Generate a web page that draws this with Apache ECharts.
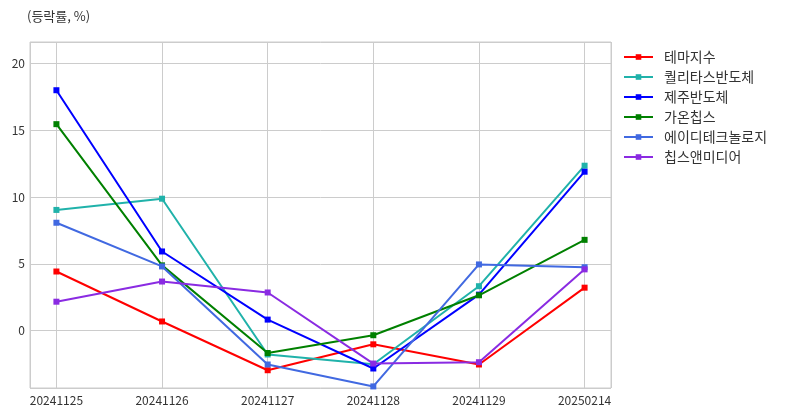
<!DOCTYPE html>
<html>
<head>
<meta charset="utf-8">
<script src="https://cdn.jsdelivr.net/npm/echarts@6/dist/echarts.min.js"></script>
<style>html,body{margin:0;padding:0;background:#fff}#c{width:789px;height:416px}</style>
</head>
<body>
<div id="c"></div>
<script>
const categories = ['20241125','20241126','20241127','20241128','20241129','20250214'];
const seriesNames = ['테마지수','퀄리타스반도체','제주반도체','가온칩스','에이디테크놀로지','칩스앤미디어'];
const themeIdx   = [4.42, 0.68, -2.97, -1.03, -2.54, 3.21];
const qualitas   = [9.03, 9.87, -1.79, -2.52, 3.32, 12.34];
const jeju       = [17.99, 5.92, 0.82, -2.84, 2.69, 11.89];
const gaon       = [15.45, 4.88, -1.68, -0.35, 2.64, 6.79];
const adtech     = [8.07, 4.80, -2.54, -4.18, 4.95, 4.74];
const chips      = [2.16, 3.67, 2.85, -2.47, -2.37, 4.58];
const colors = ['#FF0000','#20B2AA','#0000FF','#008000','#4169E1','#8A2BE2'];
const allData = [themeIdx, qualitas, jeju, gaon, adtech, chips];

const font = 'Noto Sans CJK KR';
const chart = echarts.init(document.getElementById('c'), null, {renderer:'canvas'});
chart.setOption({
  animation:false,
  backgroundColor:'#fff',
  title:{text:'(등락률, %)', left:22, top:5, textStyle:{fontSize:13, fontWeight:'normal', color:'#333', fontFamily:font}},
  legend:{
    orient:'vertical', left:618, top:45, itemWidth:29, itemHeight:7, itemGap:6,
    textStyle:{fontSize:14, color:'#333', fontFamily:font, padding:[0,0,0,6]},
    data: seriesNames
  },
  grid:{left:30, right:178, top:42, bottom:28, show:true, borderColor:'#cccccc', borderWidth:1},
  xAxis:{
    type:'value', min:-0.25, max:5.25,
    axisLine:{show:false}, axisTick:{show:false},
    splitLine:{show:true, lineStyle:{color:'#cccccc', width:1}},
    axisLabel:{
      showMinLabel:false, showMaxLabel:false, fontSize:12, color:'#333', fontFamily:font, margin:6,
      formatter:function(v){ return Number.isInteger(v) ? (categories[v]||'') : ''; }
    }
  },
  yAxis:{
    type:'value', min:-4.3, max:21.6,
    axisLine:{show:false}, axisTick:{show:false},
    splitLine:{show:true, lineStyle:{color:'#cccccc', width:1}},
    axisLabel:{showMinLabel:false, showMaxLabel:false, fontSize:12, color:'#333', fontFamily:font, margin:5,
      formatter:function(v){ return (v % 5 === 0) ? String(v) : ''; }}
  },
  series: seriesNames.map(function(n,i){
    return {
      name:n, type:'line', symbol:'rect', symbolSize:6,
      data: allData[i].map(function(v,j){return [j,v];}),
      lineStyle:{width:2, color:colors[i]},
      itemStyle:{color:colors[i]},
      z: 2+i
    };
  })
});
</script>
</body>
</html>
